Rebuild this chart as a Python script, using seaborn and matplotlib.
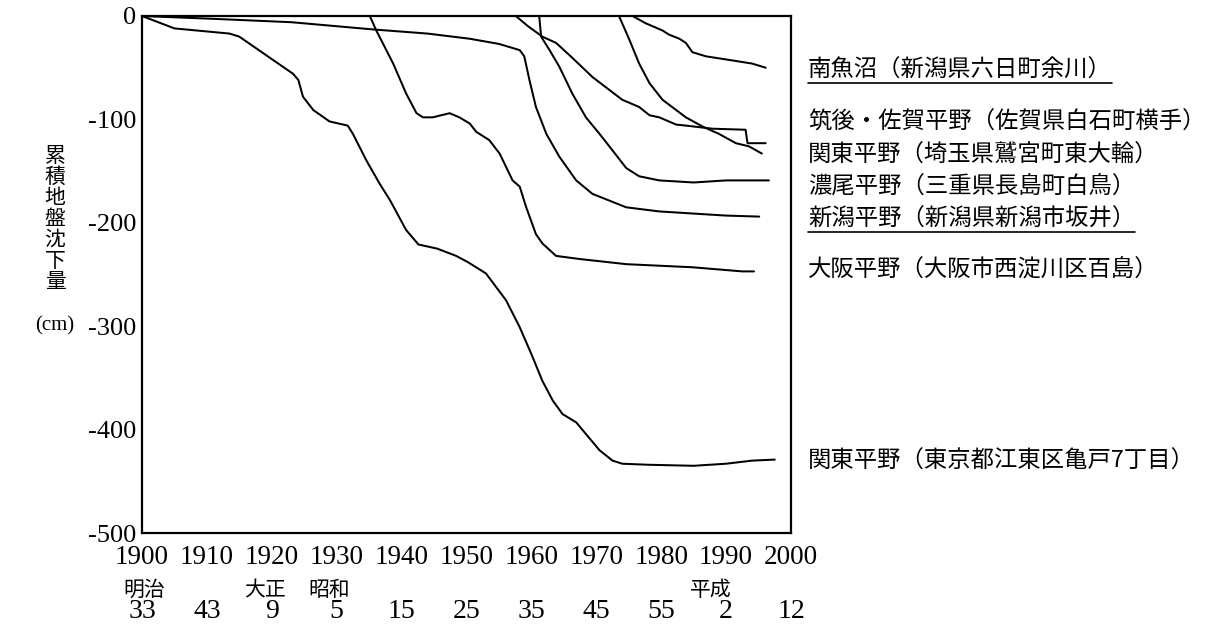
import matplotlib
matplotlib.use("Agg")
import matplotlib.pyplot as plt
import matplotlib.transforms as mtransforms
from matplotlib.lines import Line2D
import pandas as pd
import seaborn as sns

# ---------------- data ----------------
site_names = [
    "南魚沼（新潟県六日町余川）",
    "筑後・佐賀平野（佐賀県白石町横手）",
    "関東平野（埼玉県鷲宮町東大輪）",
    "濃尾平野（三重県長島町白鳥）",
    "新潟平野（新潟県新潟市坂井）",
    "大阪平野（大阪市西淀川区百島）",
    "関東平野（東京都江東区亀戸7丁目）",
]

uonuma_years = [1975.6, 1977.6, 1980.2, 1981.2, 1982.8, 1983.8, 1984.8, 1986.9, 1991.0, 1994.0, 1996.1]
uonuma_vals = [0, -7, -14, -18, -22, -26, -35, -39, -43, -46, -50]

saga_years = [1957.6, 1959.5, 1961.7, 1963.8, 1966.4, 1969.4, 1974.0, 1976.6, 1978.2, 1979.7,
              1982.3, 1983.8, 1987.9, 1993.0, 1993.3, 1996.1]
saga_vals = [0, -10, -20, -26, -41, -59, -81, -88, -96, -98,
             -105, -106, -109, -110, -123, -123]

saitama_years = [1973.5, 1975.1, 1976.6, 1978.2, 1980.2, 1983.8, 1986.4, 1988.9, 1991.5, 1993.5, 1995.5]
saitama_vals = [0, -23, -46, -65, -81, -98, -107, -114, -123, -126, -133]

nobi_years = [1961.2, 1961.5, 1962.8, 1964.3, 1966.3, 1968.4, 1970.5, 1972.5, 1974.6, 1976.6,
              1979.7, 1985.0, 1990.0, 1996.6]
nobi_vals = [0, -20, -33, -49, -75, -98, -114, -130, -147, -155,
             -159, -161, -159, -159]

niigata_years = [1900.0, 1912.0, 1923.0, 1935.6, 1944.0, 1950.5, 1955.0, 1958.2, 1958.9, 1959.7,
                 1960.7, 1962.3, 1964.3, 1966.9, 1969.4, 1974.6, 1979.7, 1984.8, 1989.9, 1995.1]
niigata_vals = [0, -3, -6, -13, -17, -22, -27, -33, -39, -62,
                -88, -114, -136, -159, -172, -185, -189, -191, -193, -194]

osaka_years = [1935.1, 1936.1, 1938.7, 1940.7, 1942.3, 1943.3, 1944.8, 1947.4, 1948.9, 1950.5,
               1951.5, 1953.5, 1955.1, 1957.1, 1958.2, 1959.2, 1960.7, 1961.7, 1963.8, 1967.4,
               1974.6, 1984.8, 1992.5, 1994.3]
osaka_vals = [0, -14, -46, -75, -94, -98, -98, -94, -98, -104,
              -112, -120, -133, -159, -165, -185, -211, -220, -232, -235,
              -240, -243, -247, -247]

tokyo_years = [1900.0, 1905.0, 1913.5, 1915.0, 1918.0, 1923.3, 1924.1, 1924.8, 1926.4, 1928.9,
               1931.7, 1932.5, 1934.6, 1936.6, 1938.2, 1940.7, 1942.6, 1945.5, 1948.4, 1950.2,
               1953.0, 1956.1, 1958.2, 1960.0, 1961.7, 1963.3, 1964.8, 1966.9, 1968.9, 1970.5,
               1972.5, 1974.0, 1978.0, 1985.0, 1990.0, 1994.0, 1997.5]
tokyo_vals = [0, -12, -17, -20, -33, -56, -62, -78, -91, -102,
              -106, -114, -140, -162, -178, -207, -221, -225, -232, -238,
              -249, -275, -301, -327, -353, -372, -385, -393, -408, -420,
              -430, -433, -434, -435, -433, -430, -429]

x_ticks = [1900, 1910, 1920, 1930, 1940, 1950, 1960, 1970, 1980, 1990, 2000]
x_tick_labels = ["1900", "1910", "1920", "1930", "1940", "1950", "1960", "1970", "1980", "1990", "2000"]
y_ticks = [0, -100, -200, -300, -400, -500]
y_tick_labels = ["0", "-100", "-200", "-300", "-400", "-500"]

era_names = ["明治", "大正", "昭和", "平成"]
era_name_years = [1900.3, 1918.9, 1928.9, 1987.7]
era_numbers = ["33", "43", "9", "5", "15", "25", "35", "45", "55", "2", "12"]

ylabel_chars = ["累", "積", "地", "盤", "沈", "下", "量"]
ylabel_unit = "(cm)"

# ---------------- build table ----------------
all_years = [uonuma_years, saga_years, saitama_years, nobi_years, niigata_years, osaka_years, tokyo_years]
all_vals = [uonuma_vals, saga_vals, saitama_vals, nobi_vals, niigata_vals, osaka_vals, tokyo_vals]
frames = []
for name, yrs, vals in zip(site_names, all_years, all_vals):
    frames.append(pd.DataFrame({"year": yrs, "subsidence": vals, "site": name}))
df = pd.concat(frames, ignore_index=True)

# ---------------- plot ----------------
sns.set_theme(style="white")
plt.rcParams["font.family"] = ["Noto Sans CJK JP", "DejaVu Sans"]

W, H = 1213, 635
fig = plt.figure(figsize=(W / 100, H / 100), dpi=100)
ax = fig.add_axes([142 / W, 1 - 533 / H, (791 - 142) / W, (533 - 16) / H])

sns.lineplot(data=df, x="year", y="subsidence", hue="site", estimator=None, sort=False,
             palette=["black"] * len(site_names), legend=False, linewidth=1.45, ax=ax)

ax.set_xlim(1900, 2000)
ax.set_ylim(-500, 0)
ax.set_xlabel("")
ax.set_ylabel("")
for sp in ax.spines.values():
    sp.set_visible(True)
    sp.set_color("black")
    sp.set_linewidth(1.6)

serif = ["Liberation Serif", "DejaVu Serif"]
ax.set_xticks(x_ticks)
ax.set_xticklabels(x_tick_labels, fontfamily=serif, fontsize=19.5)
ax.set_yticks(y_ticks)
ax.set_yticklabels(y_tick_labels, fontfamily=serif, fontsize=19)
ax.tick_params(axis="both", direction="in", length=11, width=1.3, color="black", labelcolor="black")
ax.tick_params(axis="x", pad=8.5)
ax.tick_params(axis="y", pad=4)

# site labels on the right
label_y_px = [70, 122, 155, 187, 219, 270, 461]
underlined = [0, 4]
texts = []
for name, ypx in zip(site_names, label_y_px):
    t = fig.text(808 / W, 1 - ypx / H, name, fontsize=16.8, ha="left", va="center", color="black")
    texts.append(t)

fig.canvas.draw()
renderer = fig.canvas.get_renderer()
for i in underlined:
    bb = texts[i].get_window_extent(renderer)
    yline = bb.y0 - 1
    fig.add_artist(Line2D([bb.x0 / W, bb.x1 / W], [yline / H, yline / H],
                          transform=fig.transFigure, color="black", linewidth=1.2))

# vertical y-axis label
for i, ch in enumerate(ylabel_chars):
    fig.text(55 / W, 1 - (156 + i * 21) / H, ch, fontsize=15, ha="center", va="center", color="black")
fig.text(55 / W, 1 - 326 / H, ylabel_unit, fontsize=15, fontfamily=serif, ha="center", va="center", color="black")

# era labels
blend = mtransforms.blended_transform_factory(ax.transData, fig.transFigure)
for name, yr in zip(era_names, era_name_years):
    ax.text(yr, 1 - 590 / H, name, transform=blend, fontsize=15, ha="center", va="center",
            color="black", clip_on=False)
for num, yr in zip(era_numbers, x_ticks):
    ax.text(yr, 1 - 612 / H, num, transform=blend, fontsize=20, fontfamily=serif,
            ha="center", va="center", color="black", clip_on=False)

fig.savefig("out.png", dpi=100)
